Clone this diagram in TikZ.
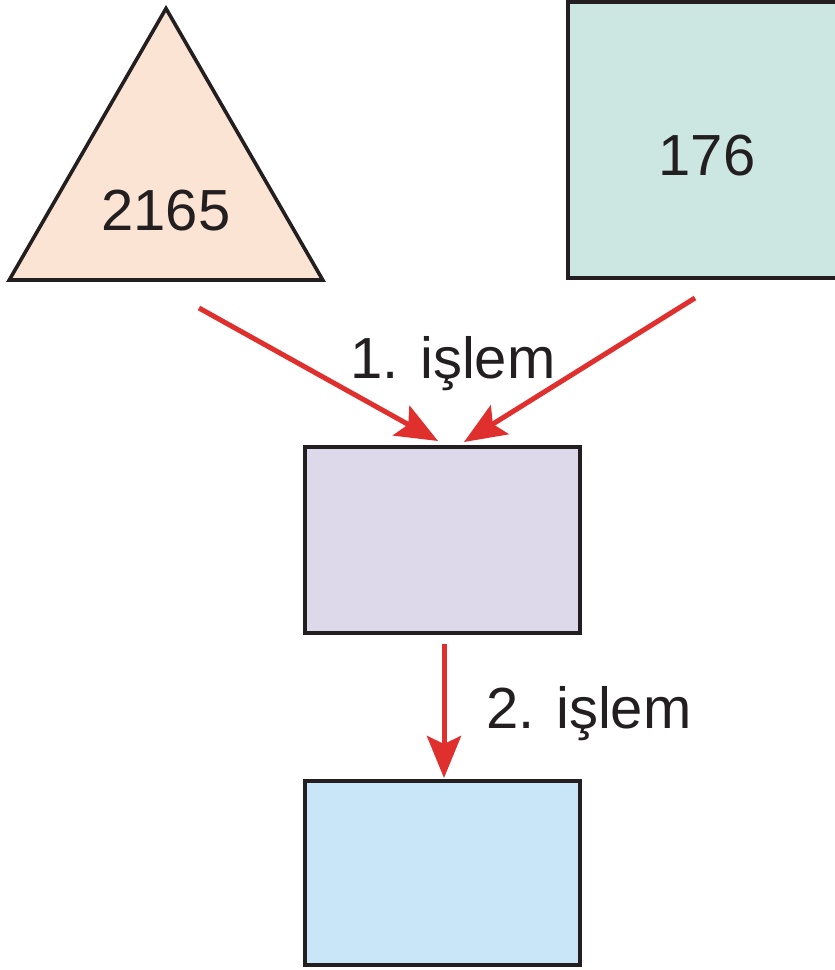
\documentclass[tikz,border=0pt]{standalone}
\usepackage{fontspec}
\setmainfont{Liberation Sans}
\usetikzlibrary{arrows.meta, shapes.geometric}
\definecolor{peach}{HTML}{FCE4D4}
\definecolor{mint}{HTML}{CCE6E1}
\definecolor{lav}{HTML}{DDD9EA}
\definecolor{sky}{HTML}{C8E6F7}
\definecolor{arrred}{HTML}{E0302E}
\definecolor{ink}{HTML}{231F20}

\begin{document}
\begin{tikzpicture}[x=1pt, y=-1pt,
  box/.style = {draw=ink, line width=3.6pt, inner sep=0pt, outer sep=0pt},
  num/.style = {anchor=base, text=ink, font=\fontsize{58}{70}\selectfont},
  arr/.style = {draw=arrred, line width=5pt, -{Stealth[length=42pt, width=34pt, inset=8pt]}}]
\useasboundingbox (0,0) rectangle (835,970);
\node(t1)[box, regular polygon, regular polygon sides=3, minimum size=362pt, fill=peach] at (166,189.5) {};
\node(r1)[box, minimum width=280pt, minimum height=276pt, fill=mint] at (708,140) {};
\node(m1)[box, minimum width=275pt, minimum height=186pt, fill=lav] at (442.5,540) {};
\node(b1)[box, minimum width=275pt, minimum height=184pt, fill=sky] at (442.5,873) {};
\node(n1)[num] at (166,230) {2165};
\node(n2)[num] at (707,175) {176};
\node(l1)[num] at (453,378) {1. işlem};
\node(l2)[num] at (589,728) {2. işlem};
\draw[arr] ([xshift=33pt, yshift=-118.5pt]t1.center) -- ([xshift=-4.5pt, yshift=6pt]m1.north);
\draw[arr] ([xshift=-13pt, yshift=-20pt]r1.south) -- ([xshift=21.5pt, yshift=5pt]m1.north);
\draw[arr] ([xshift=1.5pt, yshift=-11pt]m1.south) -- ([xshift=1.5pt, yshift=3pt]b1.north);
\end{tikzpicture}
\end{document}
